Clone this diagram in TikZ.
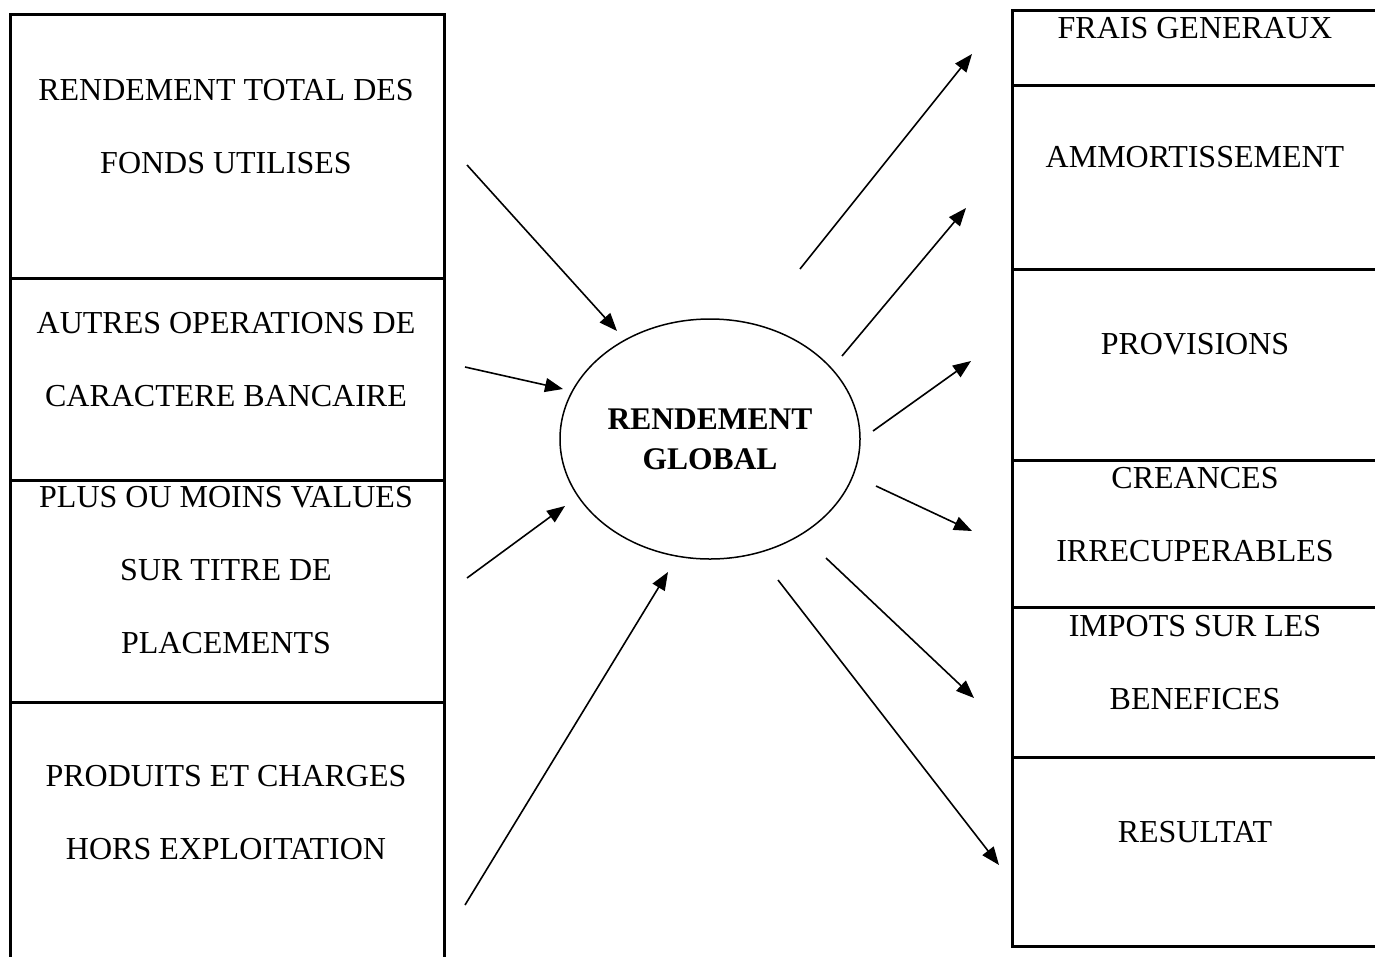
\documentclass[tikz,border=0pt]{standalone}
\usepackage{fontspec}
\setmainfont{Liberation Serif}
\usetikzlibrary{arrows.meta,positioning,shapes.geometric}

\tikzset{
  cell/.style={draw,line width=2.5pt,anchor=north west,inner sep=0pt,minimum width=#1},
  lab/.style={align=center,inner sep=0pt,font=\fontsize{32}{73}\selectfont},
  hub/.style={ellipse,draw,line width=1.5pt,inner sep=0pt,minimum width=300pt,
    minimum height=240pt,align=center,font=\fontsize{31.5}{40}\selectfont\bfseries},
  flow/.style={-{Triangle[length=18pt,width=14pt]},line width=1.6pt}
}

\begin{document}
\begin{tikzpicture}[x=1pt,y=-1pt]

  \useasboundingbox (0,0) rectangle (1375,956);

  \def\lx{9}   % left column
  \def\rx{1011} % right column
  \def\lw{434pt}
  \def\rw{368pt}
  \def\lc{226}
  \def\rc{1195}

  % left column
  \node[cell=\lw,minimum height=264pt] (c1) at (\lx,13) {};
  \node[cell=\lw,minimum height=202pt] (c2) at (\lx,277) {};
  \node[cell=\lw,minimum height=222pt] (c3) at (\lx,479) {};
  \node[cell=\lw,minimum height=270pt] (c4) at (\lx,701) {};

  \node[lab] (t1) at (\lc,126.5) {RENDEMENT TOTAL DES\\FONDS UTILISES};
  \node[lab] (t2) at (\lc,359.5) {AUTRES OPERATIONS DE\\CARACTERE BANCAIRE};
  \node[lab] (t3) at (\lc,570.5) {PLUS OU MOINS VALUES\\SUR TITRE DE\\PLACEMENTS};
  \node[lab] (t4) at (\lc,813) {PRODUITS ET CHARGES\\HORS EXPLOITATION};

  % right column
  \node[cell=\rw,minimum height=75pt] (r1) at (\rx,9) {};
  \node[cell=\rw,minimum height=184pt] (r2) at (\rx,84) {};
  \node[cell=\rw,minimum height=191pt] (r3) at (\rx,268) {};
  \node[cell=\rw,minimum height=147pt] (r4) at (\rx,459) {};
  \node[cell=\rw,minimum height=150pt] (r5) at (\rx,606) {};
  \node[cell=\rw,minimum height=189pt] (r6) at (\rx,756) {};

  \node[lab] (s1) at (\rc,28) {FRAIS GENERAUX};
  \node[lab] (s2) at (\rc,157) {AMMORTISSEMENT};
  \node[lab] (s3) at (\rc,344) {PROVISIONS};
  \node[lab] (s4) at (\rc,514.5) {CREANCES\\IRRECUPERABLES};
  \node[lab] (s5) at (\rc,662.5) {IMPOTS SUR LES\\BENEFICES};
  \node[lab] (s6) at (\rc,832) {RESULTAT};

  \node[hub] (rg) at (710,439) {RENDEMENT\\GLOBAL};

  % incoming
  \coordinate (a1) at (467,165);  \coordinate (b1) at (617,331);
  \coordinate (a2) at (465,367);  \coordinate (b2) at (563,389);
  \coordinate (a3) at (467,578);  \coordinate (b3) at (565,506);
  \coordinate (a4) at (465,905);  \coordinate (b4) at (668,572);

  % outgoing
  \coordinate (p1) at (800,269);  \coordinate (q1) at (972,54);
  \coordinate (p2) at (842,356);  \coordinate (q2) at (966,208);
  \coordinate (p3) at (873,431);  \coordinate (q3) at (971,361);
  \coordinate (p4) at (876,486);  \coordinate (q4) at (972,531);
  \coordinate (p5) at (826,558);  \coordinate (q5) at (974,698);
  \coordinate (p6) at (778,580);  \coordinate (q6) at (999,865);

  \foreach \i in {1,...,4}
    \draw[flow] (a\i) -- (b\i);
  \foreach \i in {1,...,6}
    \draw[flow] (p\i) -- (q\i);

\end{tikzpicture}
\end{document}
